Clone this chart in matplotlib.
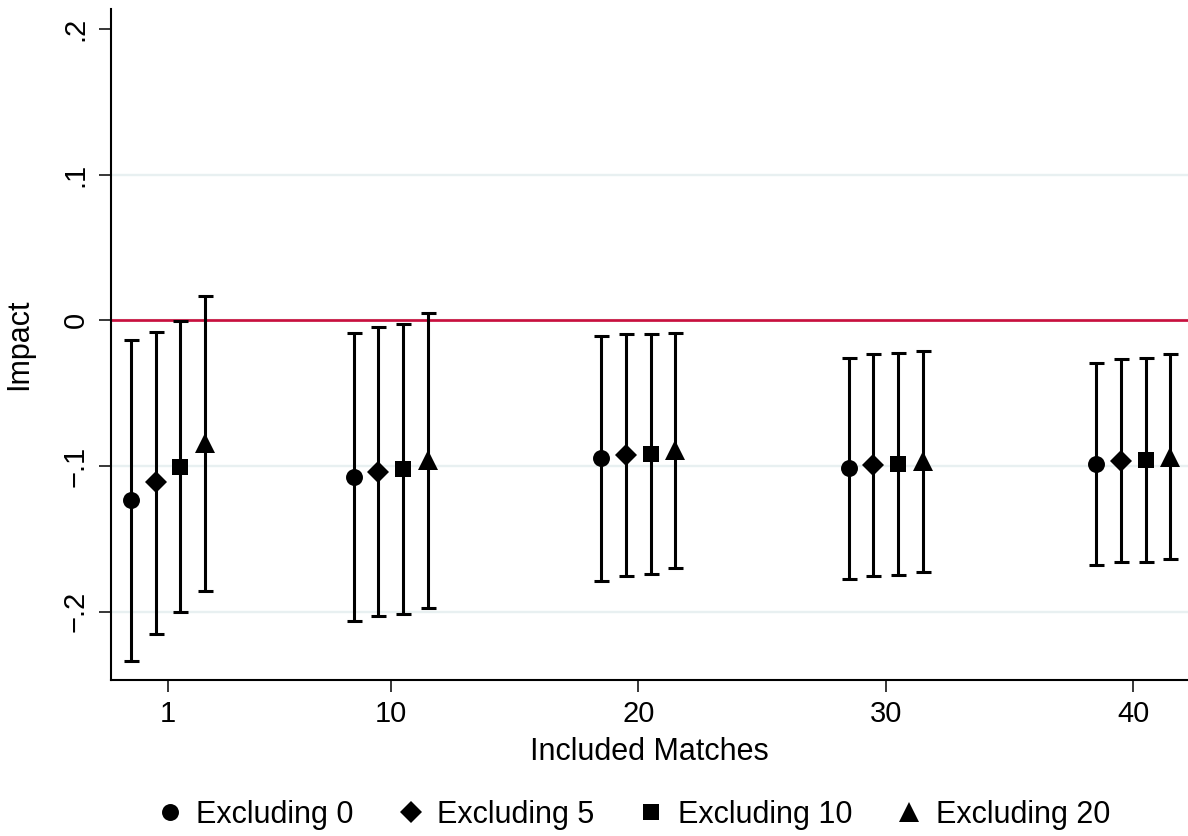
import matplotlib
matplotlib.use("Agg")
import matplotlib.pyplot as plt
from matplotlib.lines import Line2D
import numpy as np

plt.rcParams['font.family'] = ['Liberation Sans', 'DejaVu Sans']

# ---------------- data ----------------
matches = [1, 10, 20, 30, 40]
tick_labels = ["1", "10", "20", "30", "40"]
series_names = ["Excluding 0", "Excluding 5", "Excluding 10", "Excluding 20"]

est_excl0 = [-0.1234, -0.1076, -0.0943, -0.1016, -0.0988]
lo_excl0 = [-0.2336, -0.2062, -0.1787, -0.1776, -0.1681]
hi_excl0 = [-0.0135, -0.0085, -0.0106, -0.0257, -0.0295]

est_excl5 = [-0.1112, -0.1041, -0.0925, -0.0993, -0.0963]
lo_excl5 = [-0.2153, -0.2030, -0.1755, -0.1753, -0.1658]
hi_excl5 = [-0.0078, -0.0048, -0.0094, -0.0231, -0.0268]

est_excl10 = [-0.1005, -0.1023, -0.0920, -0.0988, -0.0959]
lo_excl10 = [-0.2002, -0.2016, -0.1741, -0.1746, -0.1657]
hi_excl10 = [-0.0007, -0.0023, -0.0096, -0.0226, -0.0261]

est_excl20 = [-0.0845, -0.0962, -0.0893, -0.0967, -0.0936]
lo_excl20 = [-0.1858, -0.1977, -0.1702, -0.1725, -0.1641]
hi_excl20 = [0.0165, 0.0048, -0.0089, -0.0209, -0.0231]

y_ticks = [-0.2, -0.1, 0.0, 0.1, 0.2]
y_tick_labels = ["\u2212.2", "\u2212.1", "0", ".1", ".2"]
grid_values = [-0.2, -0.1, 0.0, 0.1]

# ---------------- style ----------------
estimates = [est_excl0, est_excl5, est_excl10, est_excl20]
lows = [lo_excl0, lo_excl5, lo_excl10, lo_excl20]
highs = [hi_excl0, hi_excl5, hi_excl10, hi_excl20]
offsets = [-1.5, -0.5, 0.5, 1.5]
markers = ['o', 'D', 's', '^']
msizes = [12.2, 11.2, 12.0, 14.0]

fig = plt.figure(figsize=(11.88, 8.36), dpi=100)
ax = fig.add_axes([110.7 / 1188, 1 - 680 / 836, 1 - 110.7 / 1188, (680 - 9.3) / 836])

for gv in grid_values:
    ax.axhline(gv, color='#e8f0f1', lw=1.7, zorder=0)
ax.axhline(0, color='#c8103e', lw=1.95, zorder=1)

for est, lo, hi, off, mk, ms in zip(estimates, lows, highs, offsets, markers, msizes):
    x = np.array(matches, dtype=float) + off
    est = np.array(est)
    lo = np.array(lo)
    hi = np.array(hi)
    ax.errorbar(x, est, yerr=[est - lo, hi - est], fmt='none', ecolor='black',
                elinewidth=2.2, capsize=5.4, capthick=2.2, zorder=3)
    ax.plot(x, est, linestyle='none', marker=mk, markersize=ms, color='black',
            markeredgewidth=0, zorder=4)

ax.set_xlim(-1.315, 42.21)
ax.set_ylim(-0.2469, 0.2135)

ax.set_xticks(matches)
ax.set_xticklabels(tick_labels)
ax.set_yticks(y_ticks)
ax.set_yticklabels(y_tick_labels, rotation=90, va='center')

for s in ['top', 'right']:
    ax.spines[s].set_visible(False)
for s in ['left', 'bottom']:
    ax.spines[s].set_linewidth(1.5)
    ax.spines[s].set_color('black')

ax.tick_params(axis='both', direction='out', length=8.6, width=1.1, color='black',
               labelsize=21)
ax.tick_params(axis='x', pad=5.5)
ax.tick_params(axis='y', pad=6.5)

ax.set_xlabel("Included Matches", fontsize=22, labelpad=6.5)
ax.set_ylabel("Impact", fontsize=22, labelpad=20)

handles = [Line2D([], [], linestyle='none', marker=mk, markersize=ms, color='black',
                  markeredgewidth=0) for mk, ms in zip(markers, msizes)]
fig.legend(handles, series_names, loc='center', bbox_to_anchor=(633.9 / 1188, 1 - 815 / 836),
           ncol=4, frameon=False, fontsize=22, handlelength=0.8, handletextpad=0.47,
           columnspacing=1.46, borderpad=0, borderaxespad=0)

fig.savefig("out.png", dpi=100)
